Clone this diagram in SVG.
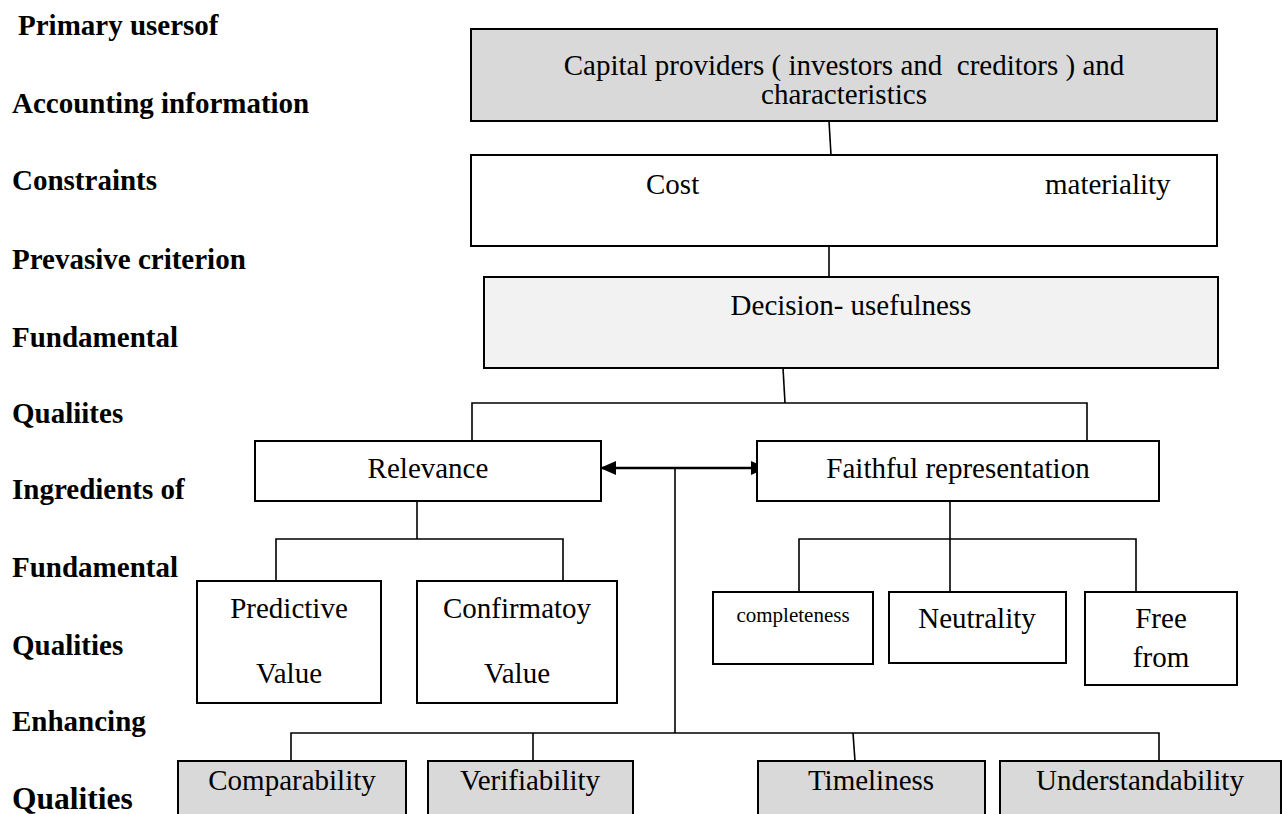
<svg xmlns="http://www.w3.org/2000/svg" width="1283" height="814" viewBox="0 0 1283 814">
<defs>
<style>
text{font-family:"Liberation Serif","Times New Roman",serif;fill:#000}
.lbl{font-weight:bold;font-size:29px}
.t{font-size:29px}
.c{text-anchor:middle}
.box{stroke:#000;stroke-width:2}
.w{fill:#fff}
.g{fill:#d9d9d9}
.lg{fill:#f2f2f2}
.ln{stroke:#000;stroke-width:1.6;fill:none}
</style>
<marker id="ah" viewBox="0 0 16 14" refX="15" refY="7" markerWidth="16" markerHeight="14" markerUnits="userSpaceOnUse" orient="auto-start-reverse">
<path d="M0,0 L16,7 L0,14 Z" fill="#000"/>
</marker>
</defs>

<g id="labels">
<text class="lbl" x="18" y="35">Primary usersof</text>
<text class="lbl" x="12" y="113">Accounting information</text>
<text class="lbl" x="12" y="190">Constraints</text>
<text class="lbl" x="12" y="269">Prevasive criterion</text>
<text class="lbl" x="12" y="347">Fundamental</text>
<text class="lbl" x="12" y="423">Qualiites</text>
<text class="lbl" x="12" y="499">Ingredients of</text>
<text class="lbl" x="12" y="577">Fundamental</text>
<text class="lbl" x="12" y="655">Qualities</text>
<text class="lbl" x="12" y="731">Enhancing</text>
<text class="lbl" x="12" y="809" style="font-size:31.5px">Qualities</text>
</g>

<g id="connectors">
<line class="ln" x1="829" y1="121" x2="831" y2="155"/>
<line class="ln" x1="829" y1="246" x2="829" y2="277"/>
<line class="ln" x1="783" y1="368" x2="785" y2="403"/>
<polyline class="ln" points="472,441 472,403 1087,403 1087,441"/>
<line class="ln" x1="417" y1="501" x2="417" y2="539"/>
<polyline class="ln" points="276,581 276,539 563,539 563,581"/>
<line class="ln" x1="950" y1="501" x2="950" y2="592"/>
<polyline class="ln" points="799,592 799,539 1136,539 1136,592"/>
<line x1="601" y1="468" x2="766" y2="468" stroke="#000" stroke-width="2.5" marker-start="url(#ah)" marker-end="url(#ah)"/>
<line class="ln" x1="675" y1="468" x2="675" y2="733"/>
<polyline class="ln" points="291,761 291,733 1159,733 1159,761"/>
<line class="ln" x1="533" y1="733" x2="533" y2="761"/>
<line class="ln" x1="853" y1="733" x2="855" y2="761"/>
</g>

<g id="capital">
<rect class="box g" x="471" y="29" width="746" height="92"/>
<text class="t c" x="844" y="75" xml:space="preserve">Capital providers ( investors and  creditors ) and</text>
<text class="t c" x="844" y="104">characteristics</text>
</g>

<g id="constraints">
<rect class="box w" x="471" y="155" width="746" height="91"/>
<text class="t" x="646" y="194">Cost</text>
<text class="t" x="1045" y="194">materiality</text>
</g>

<g id="decision">
<rect class="box lg" x="484" y="277" width="734" height="91"/>
<text class="t c" x="851" y="315">Decision- usefulness</text>
</g>

<g id="relevance">
<rect class="box w" x="255" y="441" width="346" height="60"/>
<text class="t c" x="428" y="478">Relevance</text>
</g>

<g id="faithful">
<rect class="box w" x="757" y="441" width="402" height="60"/>
<text class="t c" x="958" y="478">Faithful representation</text>
</g>

<g id="predictive">
<rect class="box w" x="197" y="581" width="184" height="122"/>
<text class="t c" x="289" y="618">Predictive</text>
<text class="t c" x="289" y="683">Value</text>
</g>

<g id="confirmatory">
<rect class="box w" x="417" y="581" width="200" height="122"/>
<text class="t c" x="517" y="618">Confirmatoy</text>
<text class="t c" x="517" y="683">Value</text>
</g>

<g id="completeness">
<rect class="box w" x="713" y="592" width="160" height="72"/>
<text class="c" x="793" y="622" style="font-size:21px">completeness</text>
</g>

<g id="neutrality">
<rect class="box w" x="889" y="592" width="177" height="71"/>
<text class="t c" x="977" y="628">Neutrality</text>
</g>

<g id="freefrom">
<rect class="box w" x="1085" y="592" width="152" height="93"/>
<text class="t c" x="1161" y="628">Free</text>
<text class="t c" x="1161" y="667">from</text>
</g>

<g id="comparability">
<rect class="box g" x="178" y="761" width="228" height="70"/>
<text class="t c" x="292" y="790">Comparability</text>
</g>

<g id="verifiability">
<rect class="box g" x="428" y="761" width="205" height="70"/>
<text class="t c" x="530" y="790">Verifiability</text>
</g>

<g id="timeliness">
<rect class="box g" x="758" y="761" width="227" height="70"/>
<text class="t c" x="871" y="790">Timeliness</text>
</g>

<g id="understandability">
<rect class="box g" x="1000" y="761" width="281" height="70"/>
<text class="t c" x="1140" y="790">Understandability</text>
</g>
</svg>
